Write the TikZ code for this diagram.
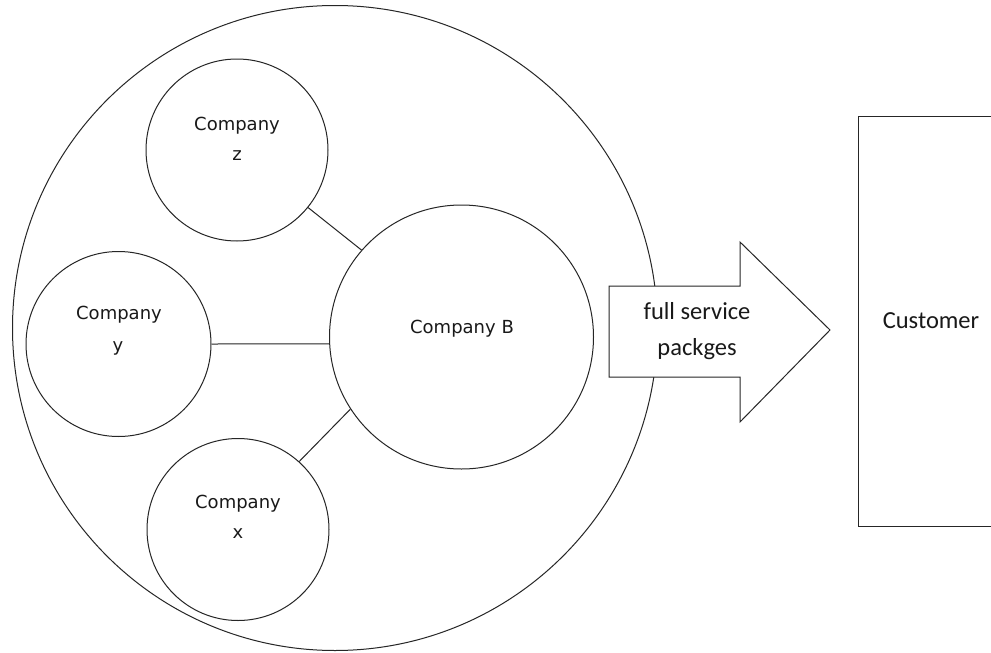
\documentclass[tikz,border=0pt]{standalone}
\usepackage{fontspec}
\newfontfamily\dejavu{DejaVu Sans}
\newfontfamily\carlito{Carlito}
\begin{document}
\begin{tikzpicture}[x=1pt,y=-1pt,
  ring/.style={draw=black!85, line width=1pt, circle, inner sep=0pt, minimum size=#1},
  link/.style={draw=black!85, line width=1pt},
  ctext/.style={font=\dejavu\fontsize{18}{20}\selectfont, text=black!90, anchor=base, inner sep=0pt},
  btext/.style={font=\carlito\fontsize{24.5}{36}\selectfont, text=black!90}]
\clip (0,0) rectangle (991,653);
\fill[white] (0,0) rectangle (991,653);
% circles
\node[ring=645pt] (outer) at (335,328) {};
\node[ring=182pt] (zc) at (237,150) {};
\node[ring=185pt] (yc) at (118.5,344) {};
\node[ring=182pt] (xc) at (238,529.5) {};
\node[ring=264pt] (B) at (461.5,337) {};
% labels
\node[ctext] (zt1) at (237,130) {Company};
\node[ctext] (zt2) at (237,160) {z};
\node[ctext] (yt1) at (119,319) {Company};
\node[ctext] (yt2) at (118,351) {y};
\node[ctext] (xt1) at (238,508) {Company};
\node[ctext] (xt2) at (238,538) {x};
\node[ctext] (Bt) at (462,333) {Company B};
% connectors
\draw[link] (zc.321) -- (B.139);
\draw[link] (yc.east) -- (B.183);
\draw[link] (xc.48) -- (B.213);
% block arrow
\coordinate (a1) at (609,286);
\coordinate (a2) at (740,286);
\coordinate (a3) at (740,242);
\coordinate (a4) at (830,330);
\coordinate (a5) at (740,422);
\coordinate (a6) at (740,377);
\coordinate (a7) at (609,377);
\draw[link, fill=white, line join=miter] (a1) -- (a2) -- (a3) -- (a4) -- (a5) -- (a6) -- (a7) -- cycle;
\node[btext, align=center, inner sep=0pt] (arr) at (697,331) {full service\\packges};
% customer box
\node[draw=black!85, line width=1pt, minimum width=146pt, minimum height=410pt, inner sep=0pt, btext] (cust) at (931,321) {Customer};
\end{tikzpicture}
\end{document}
